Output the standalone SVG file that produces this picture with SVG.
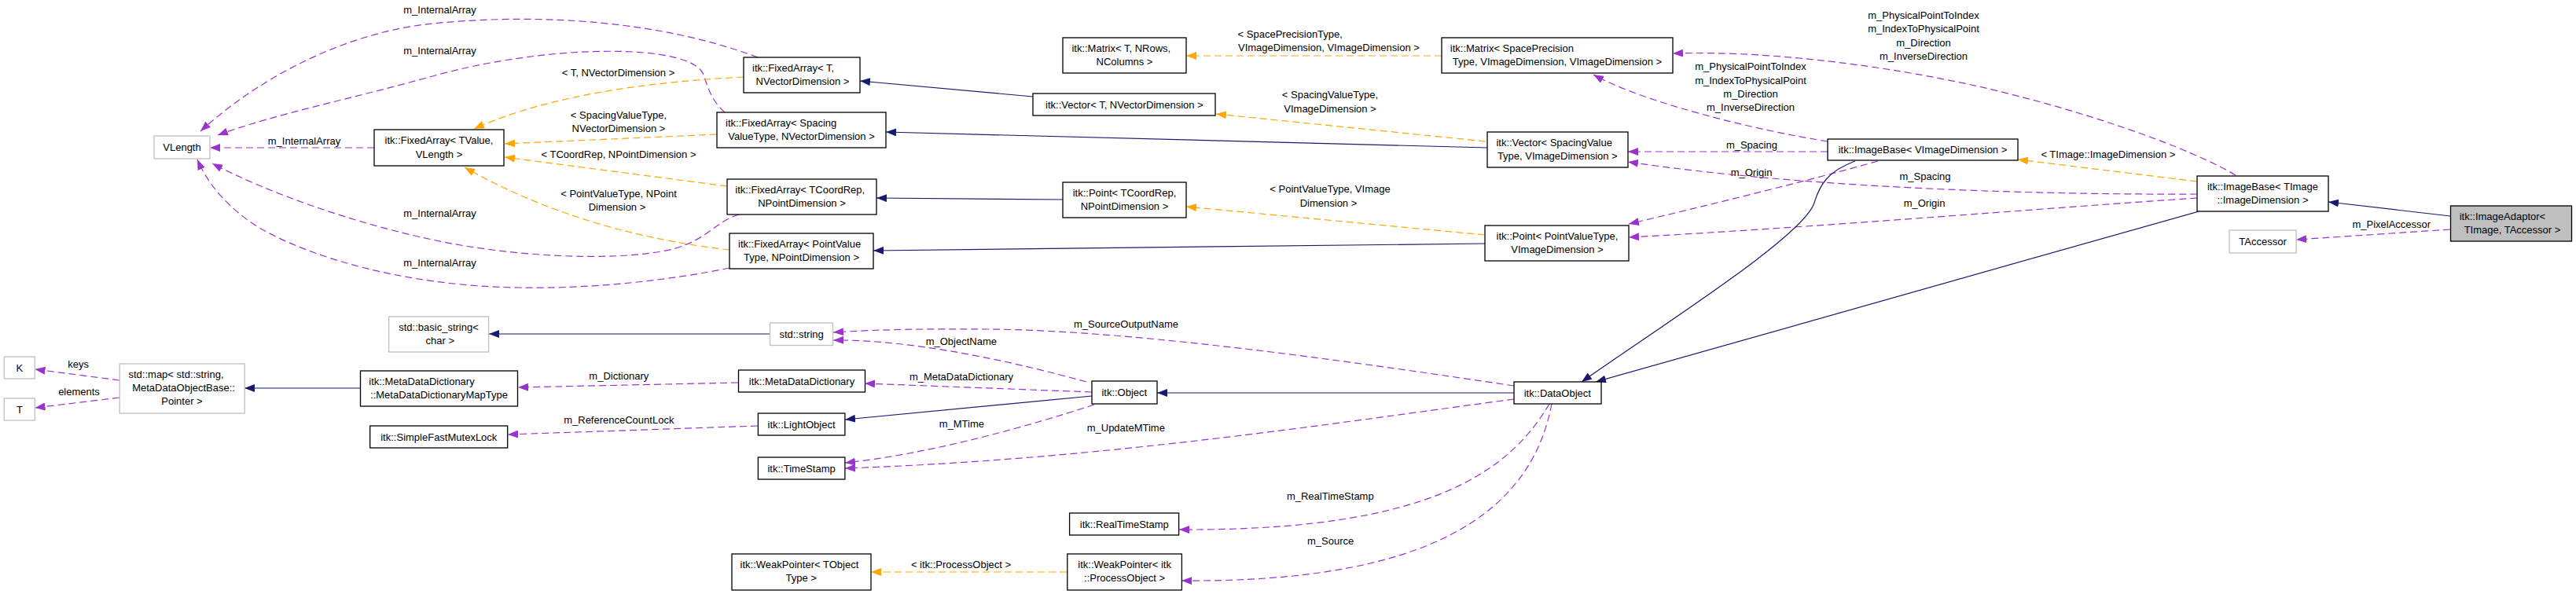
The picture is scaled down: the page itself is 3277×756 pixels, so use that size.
<svg xmlns="http://www.w3.org/2000/svg" width="3277" height="756" viewBox="0 0 3277 756">
<defs>
<style>
text{font-family:"Liberation Sans",Arial,sans-serif;font-size:13px;fill:#000}
.m{text-anchor:middle}
.n rect{fill:#fff;stroke:#000;stroke-width:1.3}
.g rect{stroke:#bfbfbf}
.sel rect{fill:#bfbfbf}
.e{fill:none;stroke-width:1.2}
.inh{stroke:#191970;marker-end:url(#an)}
.use{stroke:#9a32cd;stroke-dasharray:9,5;marker-end:url(#ap)}
.tpl{stroke:#ffa500;stroke-dasharray:9,5;marker-end:url(#ao)}
</style>
<marker id="an" viewBox="0 0 13 10" refX="13" refY="5" markerWidth="13" markerHeight="10" markerUnits="userSpaceOnUse" orient="auto"><path d="M0,0 L13,5 L0,10 z" fill="#191970"/></marker>
<marker id="ap" viewBox="0 0 13 10" refX="13" refY="5" markerWidth="13" markerHeight="10" markerUnits="userSpaceOnUse" orient="auto"><path d="M0,0 L13,5 L0,10 z" fill="#9a32cd"/></marker>
<marker id="ao" viewBox="0 0 13 10" refX="13" refY="5" markerWidth="13" markerHeight="10" markerUnits="userSpaceOnUse" orient="auto"><path d="M0,0 L13,5 L0,10 z" fill="#ffa500"/></marker>
</defs>
<rect x="0" y="0" width="3277" height="756" fill="#fff"/>

<g id="connectors">
<g id="e1"><path class="e use" d="M476,188 L267,188"/><text class="m" x="387" y="183.5">m_InternalArray</text></g>
<g id="e2"><path class="e use" d="M964,73 C850,30 700,15 550,30 C450,40 340,90 255,167"/><text class="m" x="559.5" y="17.4">m_InternalArray</text></g>
<g id="e3"><path class="e use" d="M922,143 C905,128 900,110 895,95 C880,55 700,55 550,97 C450,125 350,145 277,172"/><text class="m" x="559.5" y="69">m_InternalArray</text></g>
<g id="e4"><path class="e use" d="M940,273 C910,282 900,305 856,317 C780,335 640,325 550,305 C450,284 340,245 270,208"/><text class="m" x="559.5" y="276.4">m_InternalArray</text></g>
<g id="e5"><path class="e use" d="M928,341 C860,355 760,368 660,366 C520,364 400,330 330,290 C290,265 265,235 251,203"/><text class="m" x="559.5" y="339">m_InternalArray</text></g>
<g id="e6"><path class="e tpl" d="M946,98 C830,104 700,120 603,164"/><text class="m" x="786.5" y="97.4">&lt; T, NVectorDimension &gt;</text></g>
<g id="e7"><path class="e tpl" d="M912,171 L642,183"/><text class="m" x="787" y="151.4">&lt; SpacingValueType,</text><text class="m" x="787" y="168">NVectorDimension &gt;</text></g>
<g id="e8"><path class="e tpl" d="M925,237 L642,200"/><text class="m" x="787" y="201.4">&lt; TCoordRep, NPointDimension &gt;</text></g>
<g id="e9"><path class="e tpl" d="M928,318 C820,306 700,275 591,213"/><text class="m" x="787" y="251.4">&lt; PointValueType, NPoint</text><text class="m" x="785" y="268">Dimension &gt;</text></g>
<g id="e10"><path class="e inh" d="M1314,123 L1094,103"/></g>
<g id="e11"><path class="e inh" d="M1892,188 L1127,168"/></g>
<g id="e12"><path class="e inh" d="M1352,254 L1115,252"/></g>
<g id="e13"><path class="e inh" d="M1889,310 L1111,319"/></g>
<g id="e14"><path class="e tpl" d="M1834,71 L1509,71"/><text x="1574.6" y="48">&lt; SpacePrecisionType,</text><text x="1575" y="65.4">VImageDimension, VImageDimension &gt;</text></g>
<g id="e15"><path class="e tpl" d="M1890,180 L1547,145"/><text class="m" x="1692" y="124.7">&lt; SpacingValueType,</text><text class="m" x="1692" y="143">VImageDimension &gt;</text></g>
<g id="e16"><path class="e tpl" d="M1889,299 L1509,263"/><text class="m" x="1692" y="244.7">&lt; PointValueType, VImage</text><text class="m" x="1690" y="263">Dimension &gt;</text></g>
<g id="e17"><path class="e tpl" d="M2795,231 L2567,203"/><text x="2596.4" y="201.4">&lt; TImage::ImageDimension &gt;</text></g>
<g id="e18"><path class="e tpl" d="M1357,728 L1108,728"/><text class="m" x="1222.5" y="723.4">&lt; itk::ProcessObject &gt;</text></g>
<g id="e19"><path class="e inh" d="M3117,275 L2962,257"/></g>
<g id="e20"><path class="e use" d="M3117,292 L2921,305"/><text class="m" x="3042.3" y="289.7">m_PixelAccessor</text></g>
<g id="e21"><path class="e use" d="M2844,223 C2780,185 2640,138 2517,110 C2400,84 2250,64 2128,68"/><text class="m" x="2447" y="24">m_PhysicalPointToIndex</text><text class="m" x="2447" y="41.4">m_IndexToPhysicalPoint</text><text class="m" x="2447" y="59">m_Direction</text><text class="m" x="2447" y="76.4">m_InverseDirection</text></g>
<g id="e22"><path class="e use" d="M2325,180 C2230,165 2090,130 2027,95"/><text class="m" x="2227" y="89">m_PhysicalPointToIndex</text><text class="m" x="2227" y="107">m_IndexToPhysicalPoint</text><text class="m" x="2227" y="124">m_Direction</text><text class="m" x="2227" y="141.4">m_InverseDirection</text></g>
<g id="e23"><path class="e use" d="M2325,193 L2071,193"/><text class="m" x="2228.4" y="189">m_Spacing</text></g>
<g id="e24"><path class="e use" d="M2389,205 C2300,230 2170,262 2072,285"/><text class="m" x="2228" y="224">m_Origin</text></g>
<g id="e25"><path class="e use" d="M2795,247 C2600,248 2300,240 2071,206"/><text class="m" x="2449" y="229">m_Spacing</text></g>
<g id="e26"><path class="e use" d="M2795,252 C2600,265 2300,290 2072,302"/><text class="m" x="2448" y="263">m_Origin</text></g>
<g id="e27"><path class="e inh" d="M2360,205 C2325,218 2315,235 2308,258 C2295,300 2120,410 2012,486"/></g>
<g id="e28"><path class="e inh" d="M2797,269 L2030,486"/></g>
<g id="e29"><path class="e inh" d="M1926,500 L1472,500"/></g>
<g id="e30"><path class="e inh" d="M1389,504 L1075,534"/></g>
<g id="e31"><path class="e use" d="M1926,491 C1750,465 1450,420 1255,419 C1150,418 1090,421 1060,423"/><text class="m" x="1432.5" y="416.7">m_SourceOutputName</text></g>
<g id="e32"><path class="e use" d="M1382,486 C1270,455 1150,432 1060,433"/><text class="m" x="1222.8" y="439.4">m_ObjectName</text></g>
<g id="e33"><path class="e use" d="M1389,499 L1100,488"/><text class="m" x="1223" y="484.4">m_MetaDataDictionary</text></g>
<g id="e34"><path class="e use" d="M939,487 L659,493"/><text class="m" x="787.3" y="483.4">m_Dictionary</text></g>
<g id="e35"><path class="e use" d="M964,542 L646,553"/><text class="m" x="787.3" y="539.4">m_ReferenceCountLock</text></g>
<g id="e36"><path class="e use" d="M1392,515 C1300,545 1180,578 1075,589"/><text class="m" x="1223.3" y="544">m_MTime</text></g>
<g id="e37"><path class="e use" d="M1926,508 C1700,538 1400,585 1075,596"/><text class="m" x="1432.3" y="549">m_UpdateMTime</text></g>
<g id="e38"><path class="e use" d="M1971,514 C1920,600 1820,676 1500,674"/><text class="m" x="1692.3" y="635.7">m_RealTimeStamp</text></g>
<g id="e39"><path class="e use" d="M1974,514 C1950,640 1840,742 1503,739"/><text class="m" x="1692.6" y="693.4">m_Source</text></g>
<g id="e40"><path class="e inh" d="M979,425 L622,425"/></g>
<g id="e41"><path class="e inh" d="M458,494 L311,494"/></g>
<g id="e42"><path class="e use" d="M152,484 L44.5,470"/><text class="m" x="99.6" y="468.4">keys</text></g>
<g id="e43"><path class="e use" d="M152,506 L44.5,519"/><text class="m" x="100.5" y="503.4">elements</text></g>
</g>

<g id="n_VLength" class="n g"><rect x="196" y="173" width="71" height="29"/><text class="m" x="231.5" y="191.7">VLength</text></g>
<g id="n_FA_TValue" class="n"><rect x="476" y="165" width="165" height="46"/><text class="m" x="558.5" y="183">itk::FixedArray&lt; TValue,</text><text class="m" x="558.5" y="200.5">VLength &gt;</text></g>
<g id="n_FA_T" class="n"><rect x="946" y="73" width="148" height="45"/><text x="957" y="91">itk::FixedArray&lt; T,</text><text class="m" x="1021" y="108">NVectorDimension &gt;</text></g>
<g id="n_FA_SVT" class="n"><rect x="912" y="143" width="215" height="45"/><text x="923" y="161">itk::FixedArray&lt; Spacing</text><text class="m" x="1019.5" y="178">ValueType, NVectorDimension &gt;</text></g>
<g id="n_FA_TCoordRep" class="n"><rect x="925" y="228" width="190" height="45"/><text x="935.3" y="246">itk::FixedArray&lt; TCoordRep,</text><text class="m" x="1020" y="263">NPointDimension &gt;</text></g>
<g id="n_FA_PVT" class="n"><rect x="928" y="297" width="183" height="45"/><text x="939" y="315">itk::FixedArray&lt; PointValue</text><text class="m" x="1019.5" y="332">Type, NPointDimension &gt;</text></g>
<g id="n_Matrix_T" class="n"><rect x="1352" y="48" width="157" height="45"/><text x="1363.4" y="66">itk::Matrix&lt; T, NRows,</text><text class="m" x="1430.5" y="83">NColumns &gt;</text></g>
<g id="n_Vector_T" class="n"><rect x="1314" y="119" width="232" height="28"/><text class="m" x="1430.4" y="137.7">itk::Vector&lt; T, NVectorDimension &gt;</text></g>
<g id="n_Point_TCoordRep" class="n"><rect x="1352" y="232" width="157" height="45"/><text class="m" x="1430.5" y="250">itk::Point&lt; TCoordRep,</text><text class="m" x="1430.5" y="267">NPointDimension &gt;</text></g>
<g id="n_Matrix_SP" class="n"><rect x="1834" y="48" width="294" height="45"/><text x="1844.8" y="66">itk::Matrix&lt; SpacePrecision</text><text class="m" x="1981" y="83">Type, VImageDimension, VImageDimension &gt;</text></g>
<g id="n_Vector_SVT" class="n"><rect x="1892" y="168" width="179" height="45"/><text x="1903.4" y="186">itk::Vector&lt; SpacingValue</text><text class="m" x="1981.3" y="203">Type, VImageDimension &gt;</text></g>
<g id="n_Point_PVT" class="n"><rect x="1889" y="287" width="183" height="45"/><text class="m" x="1981" y="305">itk::Point&lt; PointValueType,</text><text class="m" x="1981" y="322">VImageDimension &gt;</text></g>
<g id="n_ImageBase_VID" class="n"><rect x="2325" y="177" width="242" height="27"/><text class="m" x="2446" y="195.4">itk::ImageBase&lt; VImageDimension &gt;</text></g>
<g id="n_ImageBase_TImage" class="n"><rect x="2795" y="224" width="167" height="45"/><text class="m" x="2878.5" y="242">itk::ImageBase&lt; TImage</text><text class="m" x="2878.5" y="259">::ImageDimension &gt;</text></g>
<g id="n_ImageAdaptor" class="n sel"><rect x="3117.5" y="262" width="154" height="45"/><text x="3128.7" y="280">itk::ImageAdaptor&lt;</text><text class="m" x="3196" y="297">TImage, TAccessor &gt;</text></g>
<g id="n_TAccessor" class="n g"><rect x="2836" y="293" width="85" height="29"/><text class="m" x="2878.5" y="312">TAccessor</text></g>
<g id="n_DataObject" class="n"><rect x="1926" y="486" width="111" height="28"/><text class="m" x="1981.3" y="504.7">itk::DataObject</text></g>
<g id="n_Object" class="n"><rect x="1389" y="485" width="83" height="29"/><text class="m" x="1430.3" y="504">itk::Object</text></g>
<g id="n_std_string" class="n g"><rect x="979.5" y="411" width="80" height="28.5"/><text class="m" x="1019.6" y="429.7">std::string</text></g>
<g id="n_basic_string" class="n g"><rect x="494.6" y="403" width="127" height="45"/><text class="m" x="558" y="421">std::basic_string&lt;</text><text class="m" x="559.8" y="438">char &gt;</text></g>
<g id="n_MetaDataDictionary" class="n"><rect x="939.5" y="471" width="161" height="28"/><text class="m" x="1020" y="489.7">itk::MetaDataDictionary</text></g>
<g id="n_MapType" class="n"><rect x="458.5" y="472" width="200" height="45"/><text x="469.3" y="490">itk::MetaDataDictionary</text><text class="m" x="558.5" y="507">::MetaDataDictionaryMapType</text></g>
<g id="n_LightObject" class="n"><rect x="964.4" y="526" width="110.5" height="28"/><text class="m" x="1019.6" y="544.7">itk::LightObject</text></g>
<g id="n_SimpleFastMutexLock" class="n"><rect x="470.7" y="542" width="175" height="28"/><text class="m" x="558.3" y="560.7">itk::SimpleFastMutexLock</text></g>
<g id="n_TimeStamp" class="n"><rect x="964.4" y="582" width="110.5" height="28"/><text class="m" x="1019.6" y="600.7">itk::TimeStamp</text></g>
<g id="n_RealTimeStamp" class="n"><rect x="1360.6" y="653" width="139" height="28"/><text class="m" x="1430.3" y="671.7">itk::RealTimeStamp</text></g>
<g id="n_WeakPointer_PO" class="n"><rect x="1357.8" y="705" width="145.6" height="46"/><text class="m" x="1430.6" y="723">itk::WeakPointer&lt; itk</text><text class="m" x="1430.6" y="740">::ProcessObject &gt;</text></g>
<g id="n_WeakPointer_T" class="n"><rect x="931" y="705" width="177" height="46"/><text x="941.6" y="723">itk::WeakPointer&lt; TObject</text><text class="m" x="1019.2" y="740">Type &gt;</text></g>
<g id="n_std_map" class="n g"><rect x="152.2" y="463" width="159" height="63"/><text x="163.5" y="480.8">std::map&lt; std::string,</text><text class="m" x="233.6" y="498">MetaDataObjectBase::</text><text class="m" x="231.5" y="515">Pointer &gt;</text></g>
<g id="n_K" class="n g"><rect x="5.3" y="454" width="39" height="28"/><text class="m" x="24.9" y="472.7">K</text></g>
<g id="n_T" class="n g"><rect x="5.3" y="507" width="39" height="28"/><text class="m" x="24.9" y="525.7">T</text></g>
</svg>
